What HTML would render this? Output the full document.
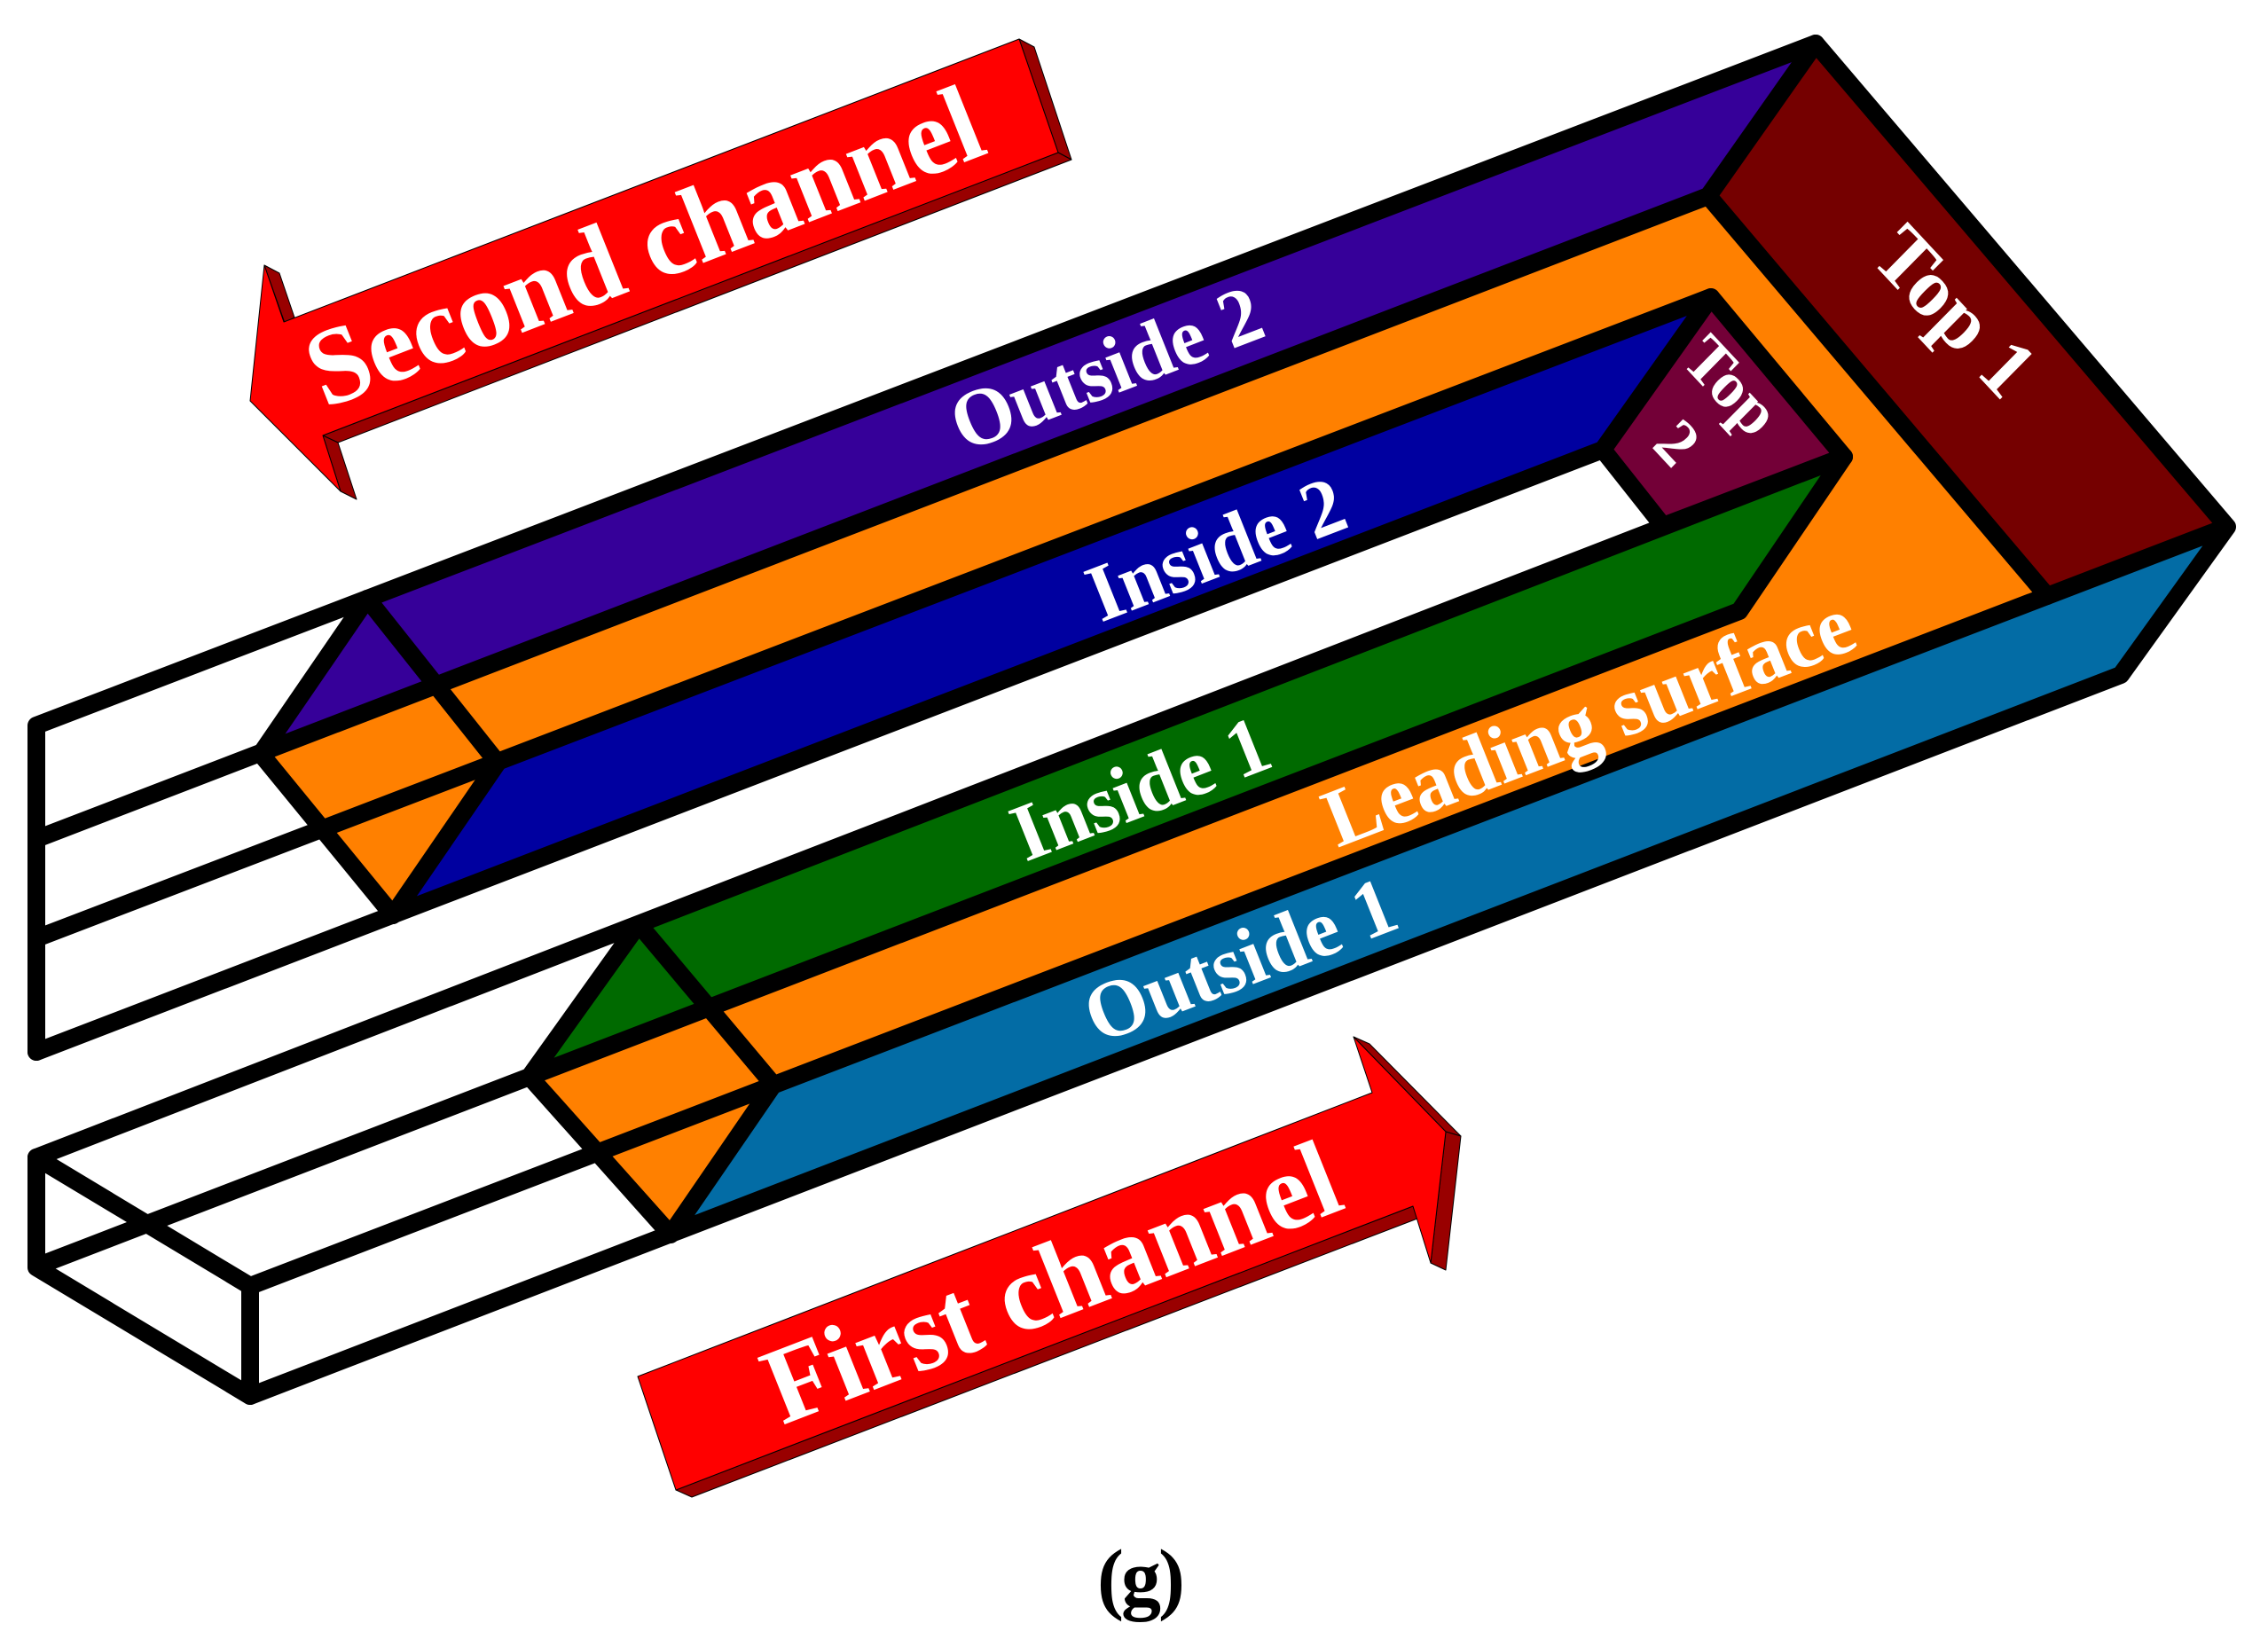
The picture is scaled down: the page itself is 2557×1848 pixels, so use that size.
<!DOCTYPE html>
<html><head><meta charset="utf-8"><style>
html,body{margin:0;padding:0;background:#fff}
svg{display:block}
text{font-family:"Liberation Serif",serif;font-weight:bold;fill:#fff}
</style></head><body>
<svg xmlns="http://www.w3.org/2000/svg" width="2557" height="1848" viewBox="0 0 2557 1848">
<rect width="2557" height="1848" fill="#fff"/>
<!-- second channel arrow -->
<g stroke="#000" stroke-width="1" stroke-linejoin="round">
<polygon fill="#990000" points="1149,44 1166,53 1208,180 1193,172"/>
<polygon fill="#990000" points="1193,172 1208,180 381,499 364,491"/>
<polygon fill="#990000" points="364,491 381,499 402,563 384,554"/>
<polygon fill="#990000" points="298,299 315,308 332,358 321,364"/>
<polygon fill="#ff0000" points="1149,44 1193,172 364,491 384,554 282,452 298,299 320,363"/>
<!-- first channel arrow -->
<polygon fill="#990000" points="762,1680 780,1688 1598,1374 1593,1360"/>
<polygon fill="#990000" points="1526,1169 1544,1177 1647,1281 1630,1276"/>
<polygon fill="#990000" points="1630,1276 1647,1281 1630,1432 1613,1424"/>
<polygon fill="#ff0000" points="719,1552 1547,1232 1526,1169 1630,1276 1613,1424 1593,1360 762,1680"/>
</g>
<!-- fills -->
<polygon fill="#750000" points="2047,49 2511,594 2308,672 1926,221"/>
<polygon fill="#360099" points="414,675 2047,49 1926,221 294,850"/>
<polygon fill="#ff8000" points="294,850 1926,221 2308,672 872,1223 756,1392 597,1214 1961,689 2079,515 1929,335 561,860 443,1032"/>
<polygon fill="#0000a0" points="561,860 1929,335 1807,507 443,1032"/>
<polygon fill="#006a00" points="720,1042 2079,515 1961,689 597,1214"/>
<polygon fill="#730037" points="1929,335 2079,515 1875,593 1807,507"/>
<polygon fill="#036ca5" points="872,1223 2511,594 2391,761 756,1392"/>
<!-- lines -->
<g fill="none" stroke="#000" stroke-width="20" stroke-linejoin="round" stroke-linecap="round">
<path d="M41,1186 L41,818 L2047,49 L2511,594 L2391,761 L282,1574 L282,1450 L2511,594"/>
<path d="M2047,49 L1926,221 L2308,672"/>
<path d="M41,946 L1926,221"/>
<path d="M41,1058 L1929,335 L2079,515 L1961,689 L41,1428"/>
<path d="M41,1186 L1807,507 L1929,335"/>
<path d="M1807,507 L1875,593 L2079,515"/>
<path d="M414,675 L294,850 L443,1032 L561,860 L414,675"/>
<path d="M41,1305 L2079,515"/>
<path d="M41,1305 L282,1450"/>
<path d="M41,1305 L41,1429 L282,1574"/>
<path d="M720,1042 L597,1214 L756,1392 L872,1223 L720,1042"/>
</g>
<!-- labels -->
<text font-size="121" transform="matrix(.934 -.36 .38 .95 366 461)">Second channel</text>
<text font-size="121" transform="matrix(.934 -.36 .38 .95 882 1607)">First channel</text>
<text font-size="90" transform="matrix(.934 -.36 .38 .95 1087 510)">Outside 2</text>
<text font-size="90" transform="matrix(.934 -.36 .38 .95 1241 702)">Inside 2</text>
<text font-size="90" transform="matrix(.934 -.36 .38 .95 1156 972)">Inside 1</text>
<text font-size="92" transform="matrix(.934 -.36 .38 .95 1508 956)">Leading surface</text>
<text font-size="90" transform="matrix(.934 -.36 .38 .95 1238 1177)">Outside 1</text>
<text font-size="93" transform="matrix(.682 .731 -.70 .71 2107 292)">Top 1</text>
<text font-size="74" transform="matrix(.682 .731 -.70 .71 1894 408)">Top</text>
<text font-size="74" transform="matrix(.682 .731 -.70 .71 1861 503)">2</text>
<text font-size="90" letter-spacing="-3" transform="translate(1237 1809)" style="fill:#000">(g)</text>
</svg>
</body></html>
